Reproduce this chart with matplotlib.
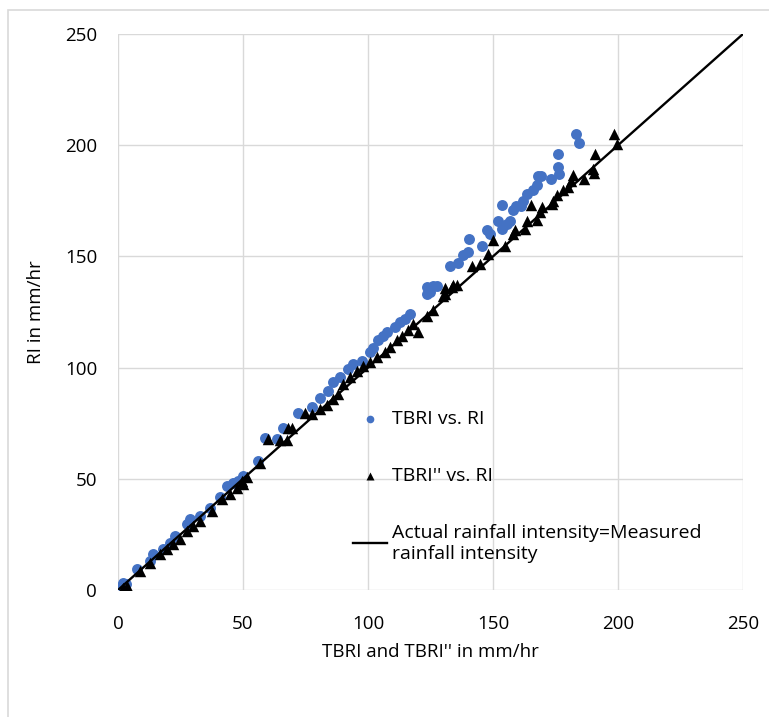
#!/usr/bin/env python3
"""
TBRI / TBRI'' vs. RI scatter with 1:1 line
"""

import matplotlib
matplotlib.use('Agg')
import matplotlib.pyplot as plt
from matplotlib.patches import Rectangle
import numpy as np

plt.rcParams['font.family'] = ['Open Sans', 'DejaVu Sans']

# ============================================================================
# DATA
# ============================================================================
tbri_x = [1.5, 2, 3, 7.5, 12.8, 14, 18, 20.8, 22.8, 27.5, 28.8, 32.8, 36.8,
          40.8, 43.5, 46, 48, 50, 56, 58.8, 63.5, 66, 72, 77.5, 80.8, 84, 86,
          88.8, 92, 94, 97.5, 100.8, 102, 104, 106, 107.5, 110.8, 112.8, 114.8,
          116.8, 123.5, 123.5, 124.8, 126, 127.7, 132.8, 136, 138, 140, 140.5,
          145.5, 147.7, 149, 152, 153.5, 153.7, 155.5, 157, 158, 159, 161, 162,
          163.5, 166, 167.5, 168, 169, 173.2, 176, 176, 176.5, 183, 184.4]
tbri_y = [1.8, 3.3, 2.5, 9.3, 13, 16, 18.3, 21.3, 24.3, 29.6, 31.8, 33.3, 37,
          41.6, 46.8, 48, 49, 51.4, 58, 68.3, 67.9, 73, 79.6, 82.4, 86.4, 89.6,
          93.4, 95.6, 99.4, 101.7, 103, 107, 109, 112.2, 114.4, 116, 118.2,
          120.4, 122, 124.2, 133.2, 136.2, 134, 136.8, 136.8, 145.6, 147, 150.5,
          151.8, 157.8, 154.8, 161.7, 160, 166, 162.5, 173.3, 164.4, 166, 171,
          172.5, 172.5, 175, 178, 180, 182, 186, 186, 185, 196, 190, 187, 205,
          201]

tbri2_x = [2, 3.5, 8.8, 12.8, 16.8, 19.5, 22, 24.8, 27.5, 30, 32.8, 37.5,
           41.5, 44.8, 47.5, 49.5, 50, 51.5, 56.8, 60, 64.8, 67.5, 68, 69.5,
           74.8, 77.5, 80.8, 83.5, 86, 88, 90, 92.8, 95.5, 98, 100.8, 103.5,
           106.8, 108.8, 111.5, 113.5, 116, 118, 120, 123.5, 126, 130, 130.8,
           130.8, 133.5, 134, 135.5, 141.5, 144.8, 148, 150, 155, 158, 158.8,
           162.8, 163.5, 165, 167.5, 168.8, 169.5, 173.5, 174, 175.7, 178, 180,
           181, 181.9, 186.5, 190, 190.5, 190.8, 198.5, 199.7]
tbri2_y = [1, 1.8, 8.6, 12.3, 16, 18.3, 20.6, 22.8, 26.6, 28.8, 31.1, 35.6,
           40.9, 43.1, 46, 49, 47.6, 50.6, 57.3, 68, 67.4, 67.4, 73, 73, 79.5,
           79, 81.4, 83, 86, 88, 92.7, 95.6, 98.6, 100.9, 102.4, 104.6, 106.9,
           109.1, 112.2, 114.4, 116.7, 119.7, 116, 123.4, 125.7, 132.4, 133.2,
           135.9, 136.2, 137, 137, 145.6, 146.7, 151, 157.5, 154.7, 160, 161.7,
           162.5, 166, 173, 166.5, 170, 172, 173.4, 175, 177.5, 179.7, 181, 184,
           186.5, 185, 189.5, 187.5, 196, 205, 200.7]

line_x = [0, 250]
line_y = [0, 250]

ticks = [0, 50, 100, 150, 200, 250]

# ============================================================================
# FIGURE
# ============================================================================
fig = plt.figure(figsize=(7.69, 7.17), dpi=100)
ax = fig.add_axes([118 / 769, 1 - 590 / 717, 625 / 769, 556 / 717])

# thin outer chart border (Excel chart area)
fig.patches.append(Rectangle((8 / 769, -0.05), 1.2, 1.05 - 10 / 717,
                             transform=fig.transFigure, fill=False,
                             edgecolor='#D9D9D9', linewidth=1.2))

ax.scatter(tbri_x, tbri_y, s=62, marker='o', color='#4472C4',
           linewidths=0, label='TBRI vs. RI', zorder=3)
ax.scatter(tbri2_x, tbri2_y, s=68, marker='^', color='black',
           linewidths=0, label="TBRI'' vs. RI", zorder=4)
ax.plot(line_x, line_y, color='black', linewidth=1.7,
        label='Actual rainfall intensity=Measured\nrainfall intensity',
        zorder=5)

ax.set_xlim(0, 250)
ax.set_ylim(0, 250)
ax.set_xticks(ticks)
ax.set_yticks(ticks)
ax.grid(True, color='#D9D9D9', linewidth=1.0)
ax.set_axisbelow(True)
for sp in ax.spines.values():
    sp.set_visible(False)
ax.tick_params(length=0, pad=15, labelsize=13.5, colors='black')
ax.tick_params(axis='x', pad=18)

ax.set_xlabel("TBRI and TBRI'' in mm/hr", fontsize=13.5, labelpad=7)
ax.set_ylabel('RI in mm/hr', fontsize=13.5, labelpad=14)

leg = ax.legend(loc='upper left', bbox_to_anchor=(353 / 769, 1 - 410 / 717),
                bbox_transform=fig.transFigure, frameon=False, fontsize=14,
                borderpad=0, borderaxespad=0, handlelength=1.75,
                handletextpad=0.25, labelspacing=2.0, markerscale=0.7)

plt.savefig('out.png', dpi=100, facecolor='white', edgecolor='none')
plt.close()
